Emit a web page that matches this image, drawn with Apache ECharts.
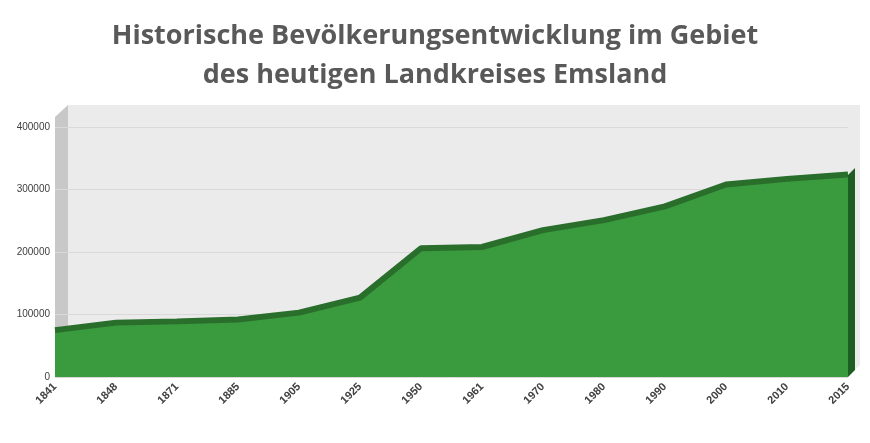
<!DOCTYPE html><html><head><meta charset="utf-8">
<script src="https://cdn.jsdelivr.net/npm/echarts@6/dist/echarts.min.js"></script>
<style>html,body{margin:0;background:#fff}#c{width:870px;height:443px}</style></head><body><div id="c"></div>
<script>
const years=['1841','1848','1871','1885','1905','1925','1950','1961','1970','1980','1990','2000','2010','2015'];
const population=[75000,87000,89000,92000,103000,127000,206000,208000,235000,251000,273000,308000,317000,324000];
const yTicks=[0,100000,200000,300000,400000];
const chart=echarts.init(document.getElementById('c'));
chart.setOption({
 animation:false,
 title:{text:'Historische Bevölkerungsentwicklung im Gebiet\ndes heutigen Landkreises Emsland',left:'center',top:12,
  textStyle:{fontFamily:'Open Sans',fontSize:27,fontWeight:'bold',color:'#595959',lineHeight:39}},
 graphic:[
  {type:'polygon',shape:{points:[[55,127],[68,105],[860,105],[860,365],[848,377],[55,377]]},style:{fill:'#ebebeb'},z:-10},
  {type:'polygon',shape:{points:[[55,117],[68,105],[68,365],[55,377]]},style:{fill:'#c8c8c8'},z:-9},
  {type:'polygon',shape:{points:[[848,175],[855,168],[855,370],[848,377]]},style:{fill:'#1f5e22'},z:10}
 ],
 grid:{left:55,right:22,top:127,bottom:66},
 xAxis:{type:'category',data:years,boundaryGap:false,
  axisLine:{show:false},axisTick:{show:false},
  axisLabel:{rotate:45,fontSize:11,fontWeight:'bold',color:'#404040',margin:8}},
 yAxis:{type:'value',min:0,max:400000,interval:100000,
  axisLabel:{fontSize:10,color:'#404040',margin:5,formatter:v=>String(v)},
  splitLine:{lineStyle:{color:'#d9d9d9'}},axisLine:{show:false}},
 series:[
  {type:'line',data:population,symbol:'none',lineStyle:{color:'#2a6e2c',width:6},
   areaStyle:{color:'#3a9a3e',opacity:1},z:3},
 ]
});
</script></body></html>
